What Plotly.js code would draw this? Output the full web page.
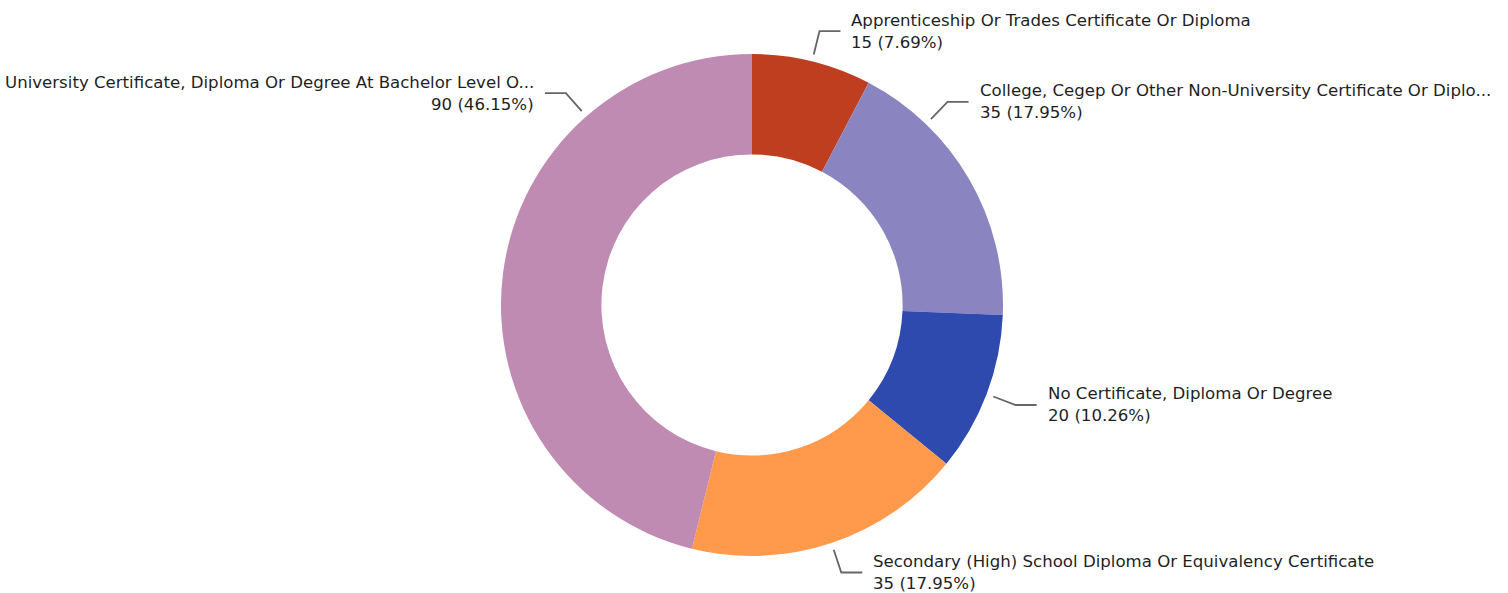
<!DOCTYPE html>
<html>
<head>
<meta charset="utf-8">
<script src="https://cdn.plot.ly/plotly-3.0.1.min.js"></script>
<style>
  html, body { margin: 0; padding: 0; background: #ffffff; }
  #chart { width: 1508px; height: 593px; }
</style>
</head>
<body>
<div id="chart"></div>
<script>
// ---- data ----
const categories = [
  "Apprenticeship Or Trades Certificate Or Diploma",
  "College, Cegep Or Other Non-University Certificate Or Diplo...",
  "No Certificate, Diploma Or Degree",
  "Secondary (High) School Diploma Or Equivalency Certificate",
  "University Certificate, Diploma Or Degree At Bachelor Level O..."
];
const values = [15, 35, 20, 35, 90];
const colors = ["#BF3E1F", "#8A85C0", "#2F4AAE", "#FF994C", "#C08BB2"];

// ---- layout config (not data) ----
const W = 1508, H = 593;
const CX = 752, CY = 305, R = 251;         // pie centre and radius in px
const HOLE = 0.6;
// label anchor angle overrides (deg clockwise from top); null = slice midpoint
const labelAngleOverride = [null, 43.9, null, null, 318.7];
const FONT = "'DejaVu Sans', Roboto, sans-serif";
const FONT_SIZE = 16.6;
const LINE_GAP = 11;

const total = values.reduce((a, b) => a + b, 0);
const px2x = x => x / W;
const px2y = y => 1 - y / H;

const trace = {
  type: "pie",
  labels: categories,
  values: values,
  marker: { colors: colors, line: { width: 0 } },
  hole: HOLE,
  sort: false,
  direction: "clockwise",
  rotation: 0,
  textinfo: "none",
  hoverinfo: "label+value+percent",
  showlegend: false,
  domain: {
    x: [px2x(CX - R), px2x(CX + R)],
    y: [px2y(CY + R), px2y(CY - R)]
  }
};

const shapes = [];
const annotations = [];
let cum = 0;
values.forEach((v, i) => {
  const mid = (cum + v / 2) / total * 360;
  cum += v;
  const ang = (labelAngleOverride[i] !== null ? labelAngleOverride[i] : mid) * Math.PI / 180;
  const r0 = R + 7, r1 = R + 31;
  const x0 = CX + r0 * Math.sin(ang), y0 = CY - r0 * Math.cos(ang);
  const x1 = CX + r1 * Math.sin(ang), y1 = CY - r1 * Math.cos(ang);
  const right = Math.sin(ang) >= 0;
  const x2 = x1 + (right ? 21 : -21);
  shapes.push({
    type: "path", xref: "paper", yref: "paper",
    path: `M ${px2x(x0)} ${px2y(y0)} L ${px2x(x1)} ${px2y(y1)} L ${px2x(x2)} ${px2y(y1)}`,
    line: { color: "#666666", width: 1.8 }
  });
  const pct = (v / total * 100).toFixed(2);
  const tx = px2x(x2 + (right ? 9 : -9));
  const base = {
    xref: "paper", yref: "paper", x: tx,
    xanchor: right ? "left" : "right", yanchor: "middle",
    align: right ? "left" : "right", showarrow: false,
    font: { family: FONT, size: FONT_SIZE, color: "#1f1f1f" }
  };
  annotations.push(Object.assign({}, base, { y: px2y(y1 - LINE_GAP), text: categories[i] }));
  annotations.push(Object.assign({}, base, { y: px2y(y1 + LINE_GAP), text: `${v} (${pct}%)` }));
});

const layout = {
  width: W, height: H,
  margin: { l: 0, r: 0, t: 0, b: 0 },
  paper_bgcolor: "#ffffff",
  plot_bgcolor: "#ffffff",
  shapes: shapes,
  annotations: annotations,
  font: { family: FONT }
};

Plotly.newPlot("chart", [trace], layout, { displayModeBar: false, staticPlot: true });
</script>
</body>
</html>
